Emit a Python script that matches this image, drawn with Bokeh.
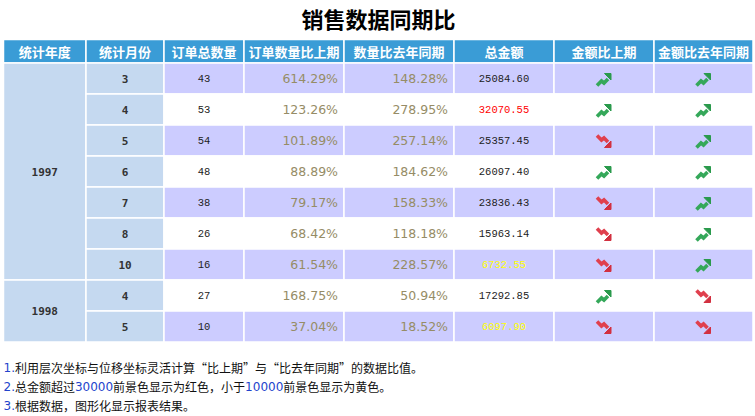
from bokeh.plotting import figure
from bokeh.models import Range1d, ColumnDataSource
from bokeh.core.properties import value
from bokeh.embed import file_html
from bokeh.resources import INLINE

# ---------------- data ----------------
title = "销售数据同期比"
headers = ["统计年度", "统计月份", "订单总数量", "订单数量比上期", "数量比去年同期", "总金额", "金额比上期", "金额比去年同期"]
years = [1997, 1997, 1997, 1997, 1997, 1997, 1997, 1998, 1998]
months = [3, 4, 5, 6, 7, 8, 10, 4, 5]
counts = [43, 53, 54, 48, 38, 26, 16, 27, 10]
qty_prev = [614.29, 123.26, 101.89, 88.89, 79.17, 68.42, 61.54, 168.75, 37.04]
qty_yoy = [148.28, 278.95, 257.14, 184.62, 158.33, 118.18, 228.57, 50.94, 18.52]
amounts = [25084.60, 32070.55, 25357.45, 26097.40, 23836.43, 15963.14, 6732.55, 17292.85, 6097.90]
amt_prev_up = [True, True, False, True, False, False, False, True, False]
amt_yoy_up = [True, True, True, True, True, True, True, False, False]
notes = [
    [("1.", "num"), ("利用层次坐标与位移坐标灵活计算“比上期”与“比去年同期”的数据比值。", "txt")],
    [("2.", "num"), ("总金额超过", "txt"), ("30000", "num"), ("前景色显示为红色，小于", "txt"),
     ("10000", "num"), ("前景色显示为黄色。", "txt")],
    [("3.", "num"), ("根据数据，图形化显示报表结果。", "txt")],
]

# ---------------- layout / style ----------------
HEAD = "#3a9cd6"
SIDE = "#c5d9f0"
LAV = "#ccccff"
PCT = "#968c66"
NUMC = "#2244cc"
edges = [3, 85.5, 163.5, 243.5, 343.5, 453.5, 553.5, 653.5, 752.5]
centers = [(edges[i] + edges[i + 1]) / 2 for i in range(8)]
head_top, head_bot = 39, 62.5
row_h = 31.0
n = len(months)
tops = [head_bot + row_h * i for i in range(n)]
bots = [t + row_h for t in tops]
mids = [(t + b) / 2 for t, b in zip(tops, bots)]

W, H = 755, 416
p = figure(width=W, height=H, x_range=Range1d(0, W), y_range=Range1d(H, 0),
           output_backend="svg", toolbar_location=None, min_border=0)
p.axis.visible = False
p.grid.visible = False
p.outline_line_color = None

# title
p.text(x=[378], y=[17], text=[title], text_font=value("Noto Sans CJK SC"), text_font_size="22px",
       text_font_style="bold", text_align="center", text_baseline="middle", text_color="#000000")

# header
p.quad(left=edges[:-1], right=edges[1:], top=[head_top] * 8, bottom=[head_bot] * 8,
       fill_color=HEAD, line_color="white", line_width=1.5)
p.text(x=centers, y=[(head_top + head_bot) / 2 + 0.5] * 8, text=headers, text_font=value("Noto Sans CJK SC"),
       text_font_size="13px", text_font_style="bold", text_color="white",
       text_align="center", text_baseline="middle")

# year cells (merged)
groups = []
for i, yv in enumerate(years):
    if groups and groups[-1][0] == yv:
        groups[-1][2] = i
    else:
        groups.append([yv, i, i])
p.quad(left=[edges[0]] * len(groups), right=[edges[1]] * len(groups),
       top=[tops[g[1]] for g in groups], bottom=[bots[g[2]] for g in groups],
       fill_color=SIDE, line_color="white", line_width=1.5)
p.text(x=[centers[0]] * len(groups), y=[(tops[g[1]] + bots[g[2]]) / 2 for g in groups],
       text=[str(g[0]) for g in groups], text_font=value("DejaVu Sans Mono"), text_font_size="11px",
       text_font_style="bold", text_color="#333333", text_align="center", text_baseline="middle")

# month cells
p.quad(left=[edges[1]] * n, right=[edges[2]] * n, top=tops, bottom=bots,
       fill_color=SIDE, line_color="white", line_width=1.5)
p.text(x=[centers[1]] * n, y=mids, text=[str(m) for m in months], text_font=value("DejaVu Sans Mono"),
       text_font_size="11px", text_font_style="bold", text_color="#333333",
       text_align="center", text_baseline="middle")

# data cells
L, R, T, B, C = [], [], [], [], []
for i in range(n):
    for c in range(2, 8):
        L.append(edges[c]); R.append(edges[c + 1]); T.append(tops[i]); B.append(bots[i])
        C.append(LAV if i % 2 == 0 else "white")
p.quad(left=L, right=R, top=T, bottom=B, fill_color=C, line_color="white", line_width=1.5)

# counts
p.text(x=[centers[2]] * n, y=mids, text=[str(v) for v in counts], text_font=value("Liberation Mono"),
       text_font_size="10.5px", text_color="#222222", text_align="center", text_baseline="middle")
# percentages
p.text(x=[edges[4] - 6] * n, y=mids, text=["%.2f%%" % v for v in qty_prev], text_font=value("DejaVu Sans"),
       text_font_size="12.5px", text_color=PCT, text_align="right", text_baseline="middle")
p.text(x=[edges[5] - 6] * n, y=mids, text=["%.2f%%" % v for v in qty_yoy], text_font=value("DejaVu Sans"),
       text_font_size="12.5px", text_color=PCT, text_align="right", text_baseline="middle")
# amounts
amt_col = ["#ff0000" if a > 30000 else ("#ffff00" if a < 10000 else "#222222") for a in amounts]
p.text(x=[centers[5]] * n, y=mids, text=["%.2f" % a for a in amounts], text_font=value("Liberation Mono"),
       text_font_size="10.5px", text_color=amt_col, text_align="center", text_baseline="middle")

# trend arrows
shaft_up = [(-7, 6), (-2.5, 1.5), (0, 3.5), (4, -0.5)]
head_up = [(0.5, -6), (7, -6), (7, 0.5)]
xs_l, ys_l, cl, xs_h, ys_h, ch = [], [], [], [], [], []
for col, ups in ((6, amt_prev_up), (7, amt_yoy_up)):
    for i, up in enumerate(ups):
        cx, cy = centers[col], mids[i] + 1
        s = 1 if up else -1
        xs_l.append([cx + dx for dx, dy in shaft_up]); ys_l.append([cy + s * dy for dx, dy in shaft_up])
        xs_h.append([cx + dx for dx, dy in head_up]); ys_h.append([cy + s * dy for dx, dy in head_up])
        cl.append("#35a85a" if up else "#e0404e")
        ch.append("#2a9a4c" if up else "#d23040")
p.multi_line(xs=xs_l, ys=ys_l, line_color=cl, line_width=3.6, line_join="miter")
p.patches(xs=xs_h, ys=ys_h, fill_color=ch, line_color=ch, line_width=1)

# notes
DIG = 12 * 0.636
DOT = 12 * 0.318
note_y = [367, 386, 405]
nx, ny, nt, nc, nf = [], [], [], [], []
for li, segs in enumerate(notes):
    x = 3
    for txt, kind in segs:
        nx.append(x); ny.append(note_y[li]); nt.append(txt)
        if kind == "num":
            nc.append(NUMC); nf.append("DejaVu Sans")
            w = sum(DOT if ch_ == "." else DIG for ch_ in txt)
        else:
            nc.append("#111111"); nf.append("Noto Sans CJK SC")
            w = 12 * len(txt)
        x += w
src = ColumnDataSource(dict(x=nx, y=ny, t=nt, c=nc, f=nf))
p.text(x="x", y="y", text="t", text_color="c", text_font="f", source=src, text_font_size="12px",
       text_align="left", text_baseline="middle")

open("out.html", "w").write(file_html(p, INLINE))
